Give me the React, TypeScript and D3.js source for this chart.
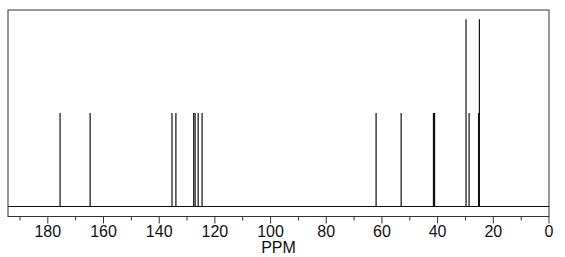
import React from "react";
import * as d3 from "d3";

const peakPpm = [175.6, 164.8, 135.4, 134.0, 127.6, 127.1, 126.0, 124.6, 62.1, 53.1, 41.5, 41.1, 29.8, 28.7, 25.3, 25.0];
const peakIntensity = [0.5, 0.5, 0.5, 0.5, 0.5, 0.5, 0.5, 0.5, 0.5, 0.5, 0.5, 0.5, 1.0, 0.5, 0.5, 1.0];
const majorTicks = [180, 160, 140, 120, 100, 80, 60, 40, 20, 0];
const minorTicks = [190, 170, 150, 130, 110, 90, 70, 50, 30, 10];
const axisLabel = "PPM";

const W = 565;
const H = 257;
const left = 8;
const right = 549;
const top = 10;
const bottom = 216.5;
const baseY = 206.5;
const font = "'Liberation Sans', Arial, Helvetica, sans-serif";

export default function App() {
  const x = d3.scaleLinear().domain([194.3, 0]).range([left, right]);
  const y = d3.scaleLinear().domain([0, 1.05]).range([baseY, top]);
  return (
    <svg width={W} height={H} style={{ position: "absolute", left: 0, top: 0, background: "#fff" }}>
      <rect x={left} y={top} width={right - left} height={bottom - top} fill="#fff" stroke="#333" strokeWidth={1} />
      <line x1={left} x2={right} y1={baseY} y2={baseY} stroke="#111" strokeWidth={1.2} />
      {peakPpm.map((p, i) => (
        <line key={i} x1={x(p)} x2={x(p)} y1={y(0)} y2={y(peakIntensity[i])} stroke="#111" strokeWidth={1.2} />
      ))}
      {majorTicks.map((t) => (
        <g key={"M" + t}>
          <line x1={x(t)} x2={x(t)} y1={bottom} y2={bottom + 7} stroke="#333" strokeWidth={1} />
          <text x={x(t)} y={237} textAnchor="middle" fontFamily={font} fontSize={16} fill="#111">{t}</text>
        </g>
      ))}
      {minorTicks.map((t) => (
        <line key={"m" + t} x1={x(t)} x2={x(t)} y1={bottom} y2={bottom + 4} stroke="#333" strokeWidth={1} />
      ))}
      <text x={(left + right) / 2} y={253} textAnchor="middle" fontFamily={font} fontSize={16} fill="#111">{axisLabel}</text>
    </svg>
  );
}
